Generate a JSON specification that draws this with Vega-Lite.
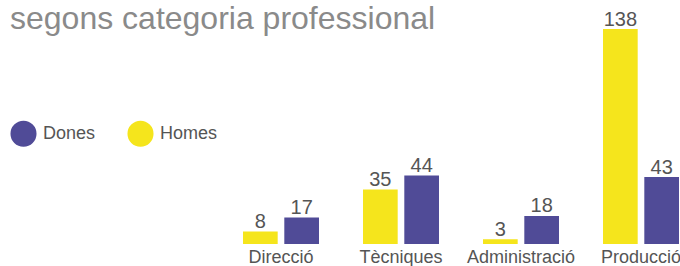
{
  "$schema": "https://vega.github.io/schema/vega-lite/v6.json",
  "autosize": "none",
  "width": 436,
  "height": 215,
  "padding": {"left": 243, "top": 29, "right": 1, "bottom": 22},
  "background": "white",
  "title": {
    "text": "segons categoria professional",
    "anchor": "start",
    "frame": "group",
    "dx": -233,
    "dy": 30,
    "fontSize": 32,
    "font": "Liberation Sans",
    "fontWeight": "normal",
    "color": "#8a8a8a"
  },
  "config": {
    "view": {"stroke": null},
    "font": "Liberation Sans"
  },
  "data": {
    "values": [
      {"categoria": "Direcció", "sexe": "Homes", "valor": 8},
      {"categoria": "Direcció", "sexe": "Dones", "valor": 17},
      {"categoria": "Tècniques", "sexe": "Homes", "valor": 35},
      {"categoria": "Tècniques", "sexe": "Dones", "valor": 44},
      {"categoria": "Administració", "sexe": "Homes", "valor": 3},
      {"categoria": "Administració", "sexe": "Dones", "valor": 18},
      {"categoria": "Producció", "sexe": "Homes", "valor": 138},
      {"categoria": "Producció", "sexe": "Dones", "valor": 43}
    ]
  },
  "encoding": {
    "x": {
      "field": "categoria",
      "type": "nominal",
      "sort": ["Direcció", "Tècniques", "Administració", "Producció"],
      "scale": {"paddingInner": 0.3667, "paddingOuter": 0},
      "axis": {
        "title": null,
        "ticks": false,
        "domain": false,
        "labelAngle": 0,
        "labelFontSize": 18,
        "labelColor": "#555555",
        "labelPadding": 4,
        "labelFont": "Liberation Sans"
      }
    },
    "xOffset": {
      "field": "sexe",
      "type": "nominal",
      "sort": ["Homes", "Dones"],
      "scale": {"paddingInner": 0.16, "paddingOuter": 0}
    },
    "y": {
      "field": "valor",
      "type": "quantitative",
      "scale": {"domain": [0, 138], "nice": false},
      "axis": null
    }
  },
  "layer": [
    {
      "mark": {"type": "bar"},
      "encoding": {
        "color": {
          "field": "sexe",
          "type": "nominal",
          "scale": {"domain": ["Dones", "Homes"], "range": ["#504b97", "#f5e51c"]},
          "legend": {
            "title": null,
            "orient": "none",
            "legendX": -233,
            "legendY": 91,
            "direction": "horizontal",
            "columns": 2,
            "symbolType": "circle",
            "symbolSize": 680,
            "symbolStrokeWidth": 0,
            "symbolOpacity": 1,
            "labelFontSize": 18,
            "labelColor": "#555555",
            "labelFont": "Liberation Sans",
            "labelOffset": 6,
            "columnPadding": 31
          }
        }
      }
    },
    {
      "mark": {
        "type": "text",
        "baseline": "alphabetic",
        "dy": -3.5,
        "fontSize": 20,
        "font": "Liberation Sans",
        "color": "#555555"
      },
      "encoding": {
        "text": {"field": "valor", "type": "quantitative"}
      }
    }
  ]
}
